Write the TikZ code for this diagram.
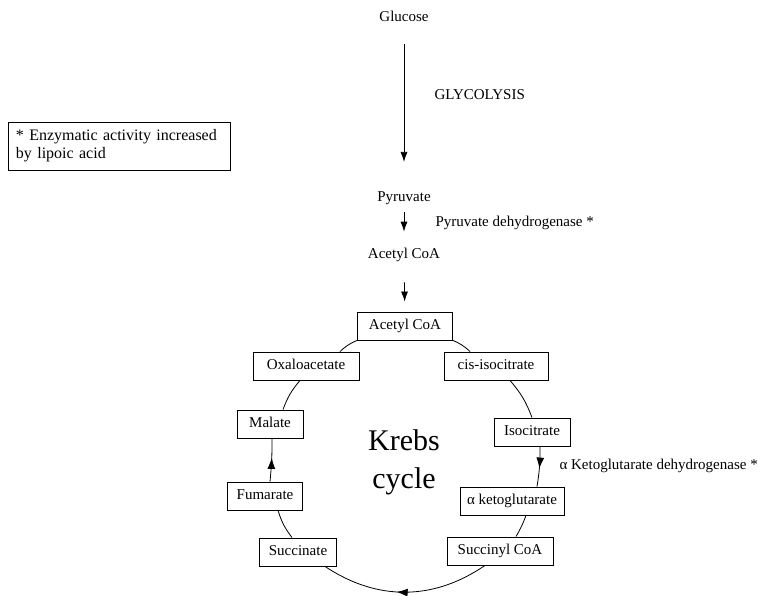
\documentclass[tikz,border=0pt]{standalone}
\usepackage{fontspec}
\setmainfont{Liberation Serif}
\usetikzlibrary{arrows.meta}
\usetikzlibrary{decorations.markings}

\begin{document}
\begin{tikzpicture}[%%
  x=1pt,y=1pt,%%
  font=\fontsize{15}{18}\selectfont,%%
  boxStyle/.style={draw,line width=0.9pt,inner xsep=0pt,minimum height=28pt,text height=10.5pt,text depth=3pt},%%
  lineStyle/.style={-,line width=0.8pt},%%
  arrowStyle/.style={-{Latex[length=10pt,width=7pt]},line width=0.8pt},%%
  midArrow/.style={lineStyle,decoration={markings,mark=at position 0.55 with {\arrow{Latex[length=11pt,width=8pt]}}},postaction={decorate}},%%
]
%%
\useasboundingbox (0,0) rectangle (768,596);
%%
%% The glycolysis part.
\node (glucose) at (404,580) {Glucose};
\node[anchor=west] (glycolysis) at (431,501) {GLYCOLYSIS};
\node (pyruvate) at (404,398) {Pyruvate};
\node[anchor=west] (pdh) at (432,373) {Pyruvate dehydrogenase *};
\node (acetylText) at (404,341) {Acetyl CoA};
%% The note on lipoic acid.
\node[draw,line width=0.9pt,minimum width=222pt,minimum height=48pt,inner xsep=8pt,text width=206pt,align=left,font=\fontsize{16}{18}\selectfont] (note) at (119,450) {* Enzymatic activity increased\\by lipoic acid};
%%
%% The boxes of the cycle.
\node[boxStyle,minimum width=95pt] (acetylBox) at (405,270) {Acetyl CoA};
\node[boxStyle,minimum width=106pt] (oxalo) at (306,230) {Oxaloacetate};
\node[boxStyle,minimum width=104pt] (cisIso) at (496,230) {cis-isocitrate};
\node[boxStyle,minimum width=66pt] (malate) at (270,172) {Malate};
\node[boxStyle,minimum width=76pt] (isocit) at (532,164) {Isocitrate};
\node[boxStyle,minimum width=75pt] (fumarate) at (265,100) {Fumarate};
\node[boxStyle,minimum width=104pt] (aKeto) at (512,95) {α ketoglutarate};
\node[boxStyle,minimum width=77pt] (succinate) at (298,44) {Succinate};
\node[boxStyle,minimum width=106pt] (succCoA) at (500,45) {Succinyl CoA};
%% The name of the cycle.
\node[align=center,font=\fontsize{30}{38}\selectfont] (krebs) at (404,134) {Krebs\\cycle};
\node[anchor=west] (akdh) at (556,130) {α Ketoglutarate dehydrogenase *};
%%
%% The arrows down to the cycle.
\draw[arrowStyle,shorten <=19pt,shorten >=26pt] (glucose) -- (pyruvate);
\draw[arrowStyle,shorten <=4pt,shorten >=13pt] (pyruvate) -- (acetylText);
\draw[arrowStyle,shorten <=17pt,shorten >=10pt] (acetylText) -- (acetylBox);
%%
%% The cycle itself.
\draw[lineStyle] (acetylBox.south west) to[bend right=10] ([xshift=34pt]oxalo.north);
\draw[lineStyle] (acetylBox.south east) to[bend left=10] ([xshift=-26pt]cisIso.north);
\draw[lineStyle] ([xshift=-6pt]oxalo.south) to[bend right=10] ([xshift=13pt]malate.north);
\draw[lineStyle] ([xshift=14pt]cisIso.south) to[bend left=10] (isocit.north);
\draw[midArrow] ([xshift=8pt]isocit.south) to[bend left=5] ([xshift=25pt]aKeto.north);
\draw[lineStyle] ([xshift=14pt]aKeto.south) to[bend left=5] ([xshift=16pt]succCoA.north);
\draw[midArrow] ([xshift=5pt]fumarate.north) to[bend right=3] ([xshift=2pt]malate.south);
\draw[lineStyle] ([xshift=13pt]fumarate.south) to[bend right=10] ([xshift=-6pt]succinate.north);
\draw[midArrow] ([xshift=-15pt]succCoA.south) to[bend left=34] ([xshift=27pt]succinate.south);
\end{tikzpicture}
\end{document}
